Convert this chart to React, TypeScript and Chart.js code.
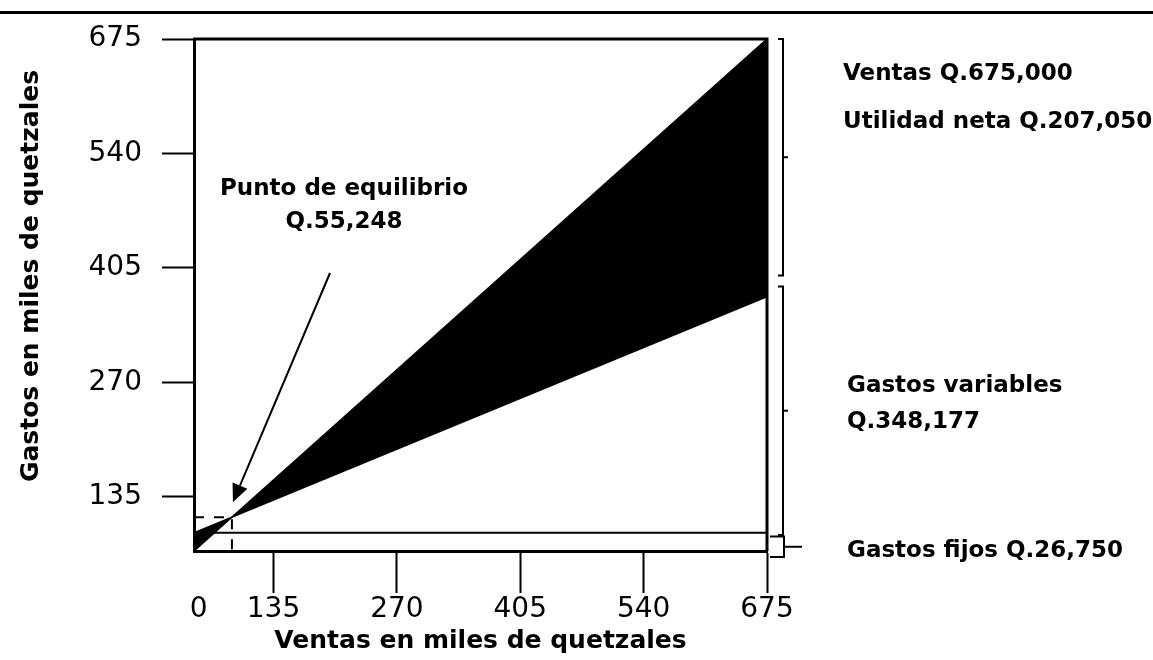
import React, { useEffect, useRef } from 'react';
import { Chart, registerables } from 'chart.js';

Chart.register(...registerables);

// Axis ranges (the drawn box does not start at zero on either axis)
const xRange = [48, 675];
const yRange = [71, 675];

// Tick values and labels (the "0" sits at the corner of the box)
const xTickValues = [53, 135, 270, 405, 540, 675];
const xTickLabels = ['0', '135', '270', '405', '540', '675'];
const yTickValues = [135, 270, 405, 540, 675];

// Series (miles de quetzales)
const ventasX = [48, 675];
const ventasY = [71, 675];
const gastosTotalesY = [92.5, 371];
const gastosFijosY = [92.5, 92.5];
const equilibrio = [89.5, 110.8];

// Brackets on the right (y ranges)
const bracketUtilidad = [396, 675];
const bracketVariables = [90, 383];
const bracketFijos = [64, 88];

const yTitle = 'Gastos en miles de quetzales';
const xTitle = 'Ventas en miles de quetzales';
const rightLabels = [
  'Ventas Q.675,000',
  'Utilidad neta Q.207,050',
  'Gastos variables',
  'Q.348,177',
  'Gastos fijos Q.26,750',
];
const equilibrioLabels = ['Punto de equilibrio', 'Q.55,248'];

const annotationsPlugin = {
  id: 'annotations',
  afterDraw(chart: any) {
    const { ctx, chartArea: a, scales } = chart;
    const y = scales.y;
    const x = scales.x;
    ctx.save();
    ctx.strokeStyle = '#000';
    ctx.fillStyle = '#000';
    ctx.lineCap = 'butt';

    // page rule
    ctx.fillRect(0, 11, chart.width, 3);

    // top & right frame
    ctx.lineWidth = 3;
    ctx.beginPath();
    ctx.moveTo(a.left - 1, a.top);
    ctx.lineTo(a.right, a.top);
    ctx.lineTo(a.right, a.bottom);
    ctx.stroke();

    // brackets
    ctx.lineWidth = 2;
    const bx = a.right + 16;
    const bracket = (range: number[]) => {
      const y0 = y.getPixelForValue(range[1]);
      const y1 = y.getPixelForValue(range[0]);
      ctx.beginPath();
      ctx.moveTo(bx - 5, y0);
      ctx.lineTo(bx, y0);
      ctx.lineTo(bx, y1);
      ctx.lineTo(bx - 5, y1);
      ctx.stroke();
      const ym = (y0 + y1) / 2;
      ctx.beginPath();
      ctx.moveTo(bx, ym);
      ctx.lineTo(bx + 5, ym);
      ctx.stroke();
    };
    bracket(bracketUtilidad);
    bracket(bracketVariables);
    {
      const y0 = y.getPixelForValue(bracketFijos[1]);
      const y1 = y.getPixelForValue(bracketFijos[0]);
      const rx = a.right + 17;
      ctx.beginPath();
      ctx.moveTo(a.right + 3, y0);
      ctx.lineTo(rx, y0);
      ctx.lineTo(rx, y1);
      ctx.lineTo(a.right + 3, y1);
      ctx.stroke();
      const ym = (y0 + y1) / 2;
      ctx.beginPath();
      ctx.moveTo(rx, ym);
      ctx.lineTo(rx + 18, ym);
      ctx.stroke();
    }

    // arrow to break-even point
    const bePx = x.getPixelForValue(equilibrio[0]);
    const bePy = y.getPixelForValue(equilibrio[1]);
    const tipX = bePx + 1;
    const tipY = bePy - 15;
    const tailX = 330;
    const tailY = 273;
    const dx = tipX - tailX;
    const dy = tipY - tailY;
    const len = Math.hypot(dx, dy);
    const ux = dx / len;
    const uy = dy / len;
    const headL = 18;
    const headW = 8;
    const baseX = tipX - ux * headL;
    const baseY = tipY - uy * headL;
    ctx.beginPath();
    ctx.moveTo(tailX, tailY);
    ctx.lineTo(baseX, baseY);
    ctx.stroke();
    ctx.beginPath();
    ctx.moveTo(tipX, tipY);
    ctx.lineTo(baseX - uy * headW, baseY + ux * headW);
    ctx.lineTo(baseX + uy * headW, baseY - ux * headW);
    ctx.closePath();
    ctx.fill();

    // y axis title (rotated)
    ctx.save();
    ctx.translate(31, (a.top + a.bottom) / 2 - 19);
    ctx.rotate(-Math.PI / 2);
    ctx.font = 'bold 25px "DejaVu Sans"';
    ctx.textAlign = 'center';
    ctx.textBaseline = 'middle';
    ctx.fillText(yTitle, 0, 0);
    ctx.restore();

    // texts
    ctx.font = 'bold 23px "DejaVu Sans"';
    ctx.textBaseline = 'alphabetic';
    ctx.textAlign = 'center';
    ctx.fillText(equilibrioLabels[0], 344, 195);
    ctx.fillText(equilibrioLabels[1], 344, 228);

    ctx.textAlign = 'left';
    const lx = a.right + 76;
    ctx.fillText(rightLabels[0], lx, 80);
    ctx.fillText(rightLabels[1], lx, 128);
    ctx.fillText(rightLabels[2], lx + 4, 392);
    ctx.fillText(rightLabels[3], lx + 4, 428);
    ctx.fillText(rightLabels[4], lx + 4, 557);
    ctx.restore();
  },
};

export default function App() {
  const canvasRef = useRef<HTMLCanvasElement | null>(null);

  useEffect(() => {
    if (!canvasRef.current) return;
    Chart.defaults.font.family = '"DejaVu Sans", sans-serif';
    Chart.defaults.color = '#000';

    const chart = new Chart(canvasRef.current, {
      type: 'line',
      data: {
        datasets: [
          {
            label: 'Ventas',
            data: ventasX.map((v, i) => ({ x: v, y: ventasY[i] })),
            borderColor: '#000',
            backgroundColor: '#000',
            borderWidth: 1.5,
            pointRadius: 0,
            fill: '+1',
          },
          {
            label: 'Gastos totales',
            data: ventasX.map((v, i) => ({ x: v, y: gastosTotalesY[i] })),
            borderColor: '#000',
            borderWidth: 1.5,
            pointRadius: 0,
            fill: false,
          },
          {
            label: 'Gastos fijos',
            data: ventasX.map((v, i) => ({ x: v, y: gastosFijosY[i] })),
            borderColor: '#000',
            borderWidth: 2,
            pointRadius: 0,
            fill: false,
          },
          {
            label: 'Punto de equilibrio',
            data: [
              { x: xRange[0], y: equilibrio[1] },
              { x: equilibrio[0], y: equilibrio[1] },
              { x: equilibrio[0], y: yRange[0] },
            ],
            borderColor: '#000',
            borderWidth: 2,
            borderDash: [10, 10],
            pointRadius: 0,
            fill: false,
          },
        ],
      },
      options: {
        animation: false,
        responsive: false,
        devicePixelRatio: 1,
        layout: { padding: { top: 39, right: 386, left: 0, bottom: 0 } },
        plugins: { legend: { display: false }, tooltip: { enabled: false } },
        scales: {
          x: {
            type: 'linear',
            min: xRange[0],
            max: xRange[1],
            afterBuildTicks: (s: any) => {
              s.ticks = xTickValues.map((v) => ({ value: v }));
            },
            afterFit: (s: any) => {
              s.height = 109;
            },
            border: { display: true, color: '#000', width: 3 },
            grid: {
              drawOnChartArea: false,
              drawTicks: true,
              tickLength: 42,
              tickWidth: 2,
              tickColor: (c: any) => (c.index === 0 ? 'rgba(0,0,0,0)' : '#000'),
            },
            ticks: {
              color: '#000',
              font: { size: 28 },
              padding: 0,
              maxRotation: 0,
              autoSkip: false,
              callback: (_v: any, i: number) => xTickLabels[i],
            },
            title: {
              display: true,
              text: xTitle,
              color: '#000',
              font: { size: 25, weight: 'bold' },
              padding: { top: 0, bottom: 4 },
            },
          },
          y: {
            type: 'linear',
            min: yRange[0],
            max: yRange[1],
            afterBuildTicks: (s: any) => {
              s.ticks = yTickValues.map((v) => ({ value: v }));
            },
            afterFit: (s: any) => {
              s.width = 194;
            },
            border: { display: true, color: '#000', width: 3 },
            grid: {
              drawOnChartArea: false,
              drawTicks: true,
              tickLength: 32,
              tickWidth: 2,
              tickColor: '#000',
            },
            ticks: {
              color: '#000',
              font: { size: 28 },
              padding: 20,
              autoSkip: false,
              callback: (v: any) => String(v),
            },
            title: { display: false },
          },
        },
      },
      plugins: [annotationsPlugin],
    });
    return () => chart.destroy();
  }, []);

  return (
    <div style={{ position: 'absolute', left: 0, top: 0, width: 1153, height: 660, background: '#fff' }}>
      <canvas ref={canvasRef} width={1153} height={660} />
    </div>
  );
}
